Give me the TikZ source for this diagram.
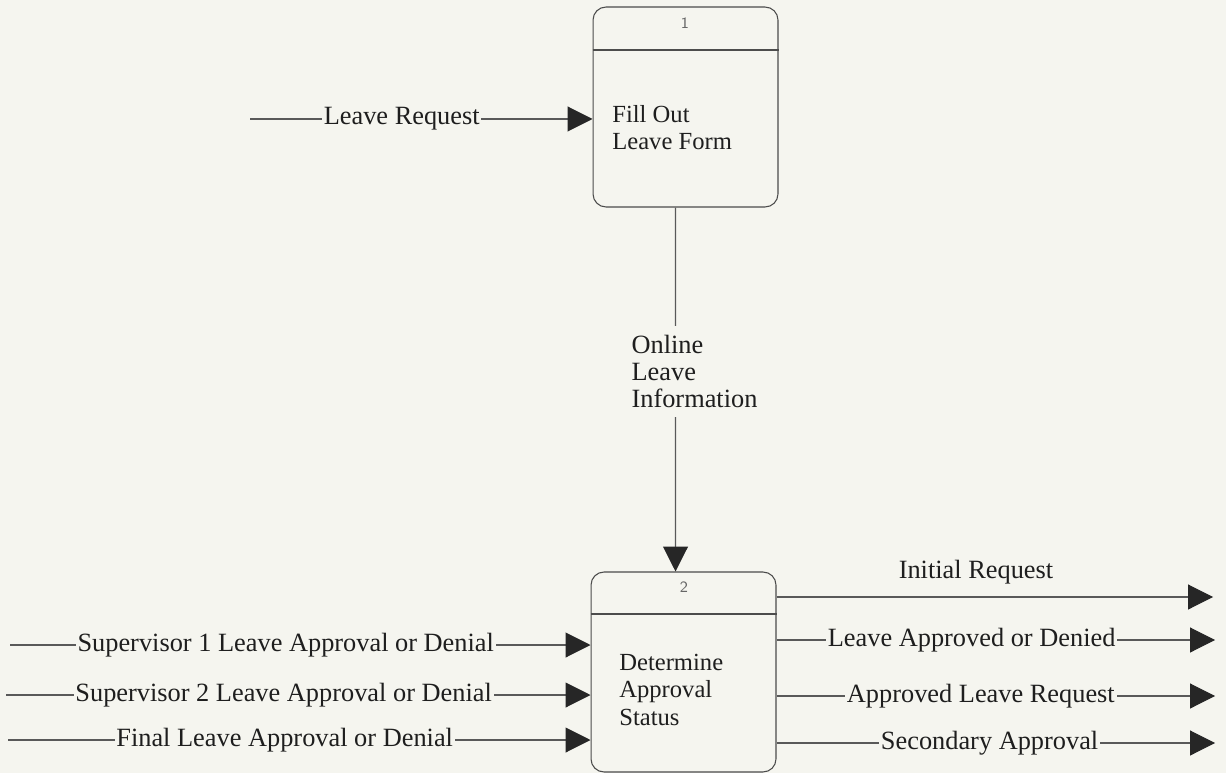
\documentclass[tikz,border=0pt]{standalone}
\usepackage{fontspec}
\setmainfont{Liberation Serif}
\usetikzlibrary{arrows.meta, positioning}
\definecolor{paper}{RGB}{245,245,239}
\definecolor{ink}{RGB}{30,30,30}

\tikzset{
  proc/.style={draw=black!70, line width=0.6pt, rounded corners=0.26cm, minimum width=3.7cm, minimum height=4cm, inner sep=0pt},
  flow/.style={draw=black!65, line width=0.6pt, -{Triangle[length=0.5cm,width=0.5cm,color=black!85]}},
  lbl/.style={fill=paper, inner sep=1pt, text=ink, font=\fontsize{15}{15.5}\selectfont},
  boxtxt/.style={anchor=north west, inner sep=0pt, align=left, text=ink, font=\fontsize{14}{15.5}\selectfont},
  numtxt/.style={inner sep=0pt, text=black!60, font=\sffamily\fontsize{9}{10}\selectfont}
}

\begin{document}
\begin{tikzpicture}[x=0.02cm, y=-0.02cm]
    \fill[paper] (0,0) rectangle (1226,773);
    \useasboundingbox (0,0) rectangle (1226,773);

    % processes
    \node[proc] (fill) at (685.5,107) {};
    \node[proc] (status) at (683.5,672) {};
    \draw[black!70, line width=0.6pt] (fill.west |- 0,50) -- (fill.east |- 0,50);
    \draw[black!70, line width=0.6pt] (status.west |- 0,614) -- (status.east |- 0,614);
    \node[numtxt] (fillnum) at (685,23) {1};
    \node[numtxt] (statusnum) at (684,587) {2};
    \node[boxtxt] (filltxt) at (612,105) {Fill Out\\Leave Form};
    \node[boxtxt] (statustxt) at (619,654) {Determine\\Approval\\Status};

    % flows in
    \coordinate (req) at (250,119);
    \draw[flow] (req) -- (fill.west |- req) node[lbl, pos=0.443] {Leave Request};
    \draw[flow] ([xshift=-0.2cm]fill.south) -- ([xshift=-0.16cm]status.north)
        node[lbl, pos=0.45, xshift=0.38cm, align=left, inner ysep=5pt] {Online\\Leave\\Information};
    \foreach \y/\x/\t [count=\i] in {645/10/Supervisor 1 Leave Approval or Denial, 695/6/Supervisor 2 Leave Approval or Denial, 740/8/Final Leave Approval or Denial} {
        \coordinate (in\i) at (\x,\y);
        \draw[flow] (in\i) -- (status.west |- in\i) node[lbl, pos=0.475] {\t};
    }

    % flows out
    \coordinate (out1) at (1213,597);
    \draw[flow] (status.east |- out1) -- (out1) node[lbl, pos=0.457, above=0.22cm] {Initial Request};
    \foreach \y/\p/\t [count=\i from 2] in {640/0.445/Leave Approved or Denied, 696/0.466/Approved Leave Request, 743/0.486/Secondary Approval} {
        \coordinate (out\i) at (1215,\y);
        \draw[flow] (status.east |- out\i) -- (out\i) node[lbl, pos=\p] {\t};
    }
\end{tikzpicture}
\end{document}
